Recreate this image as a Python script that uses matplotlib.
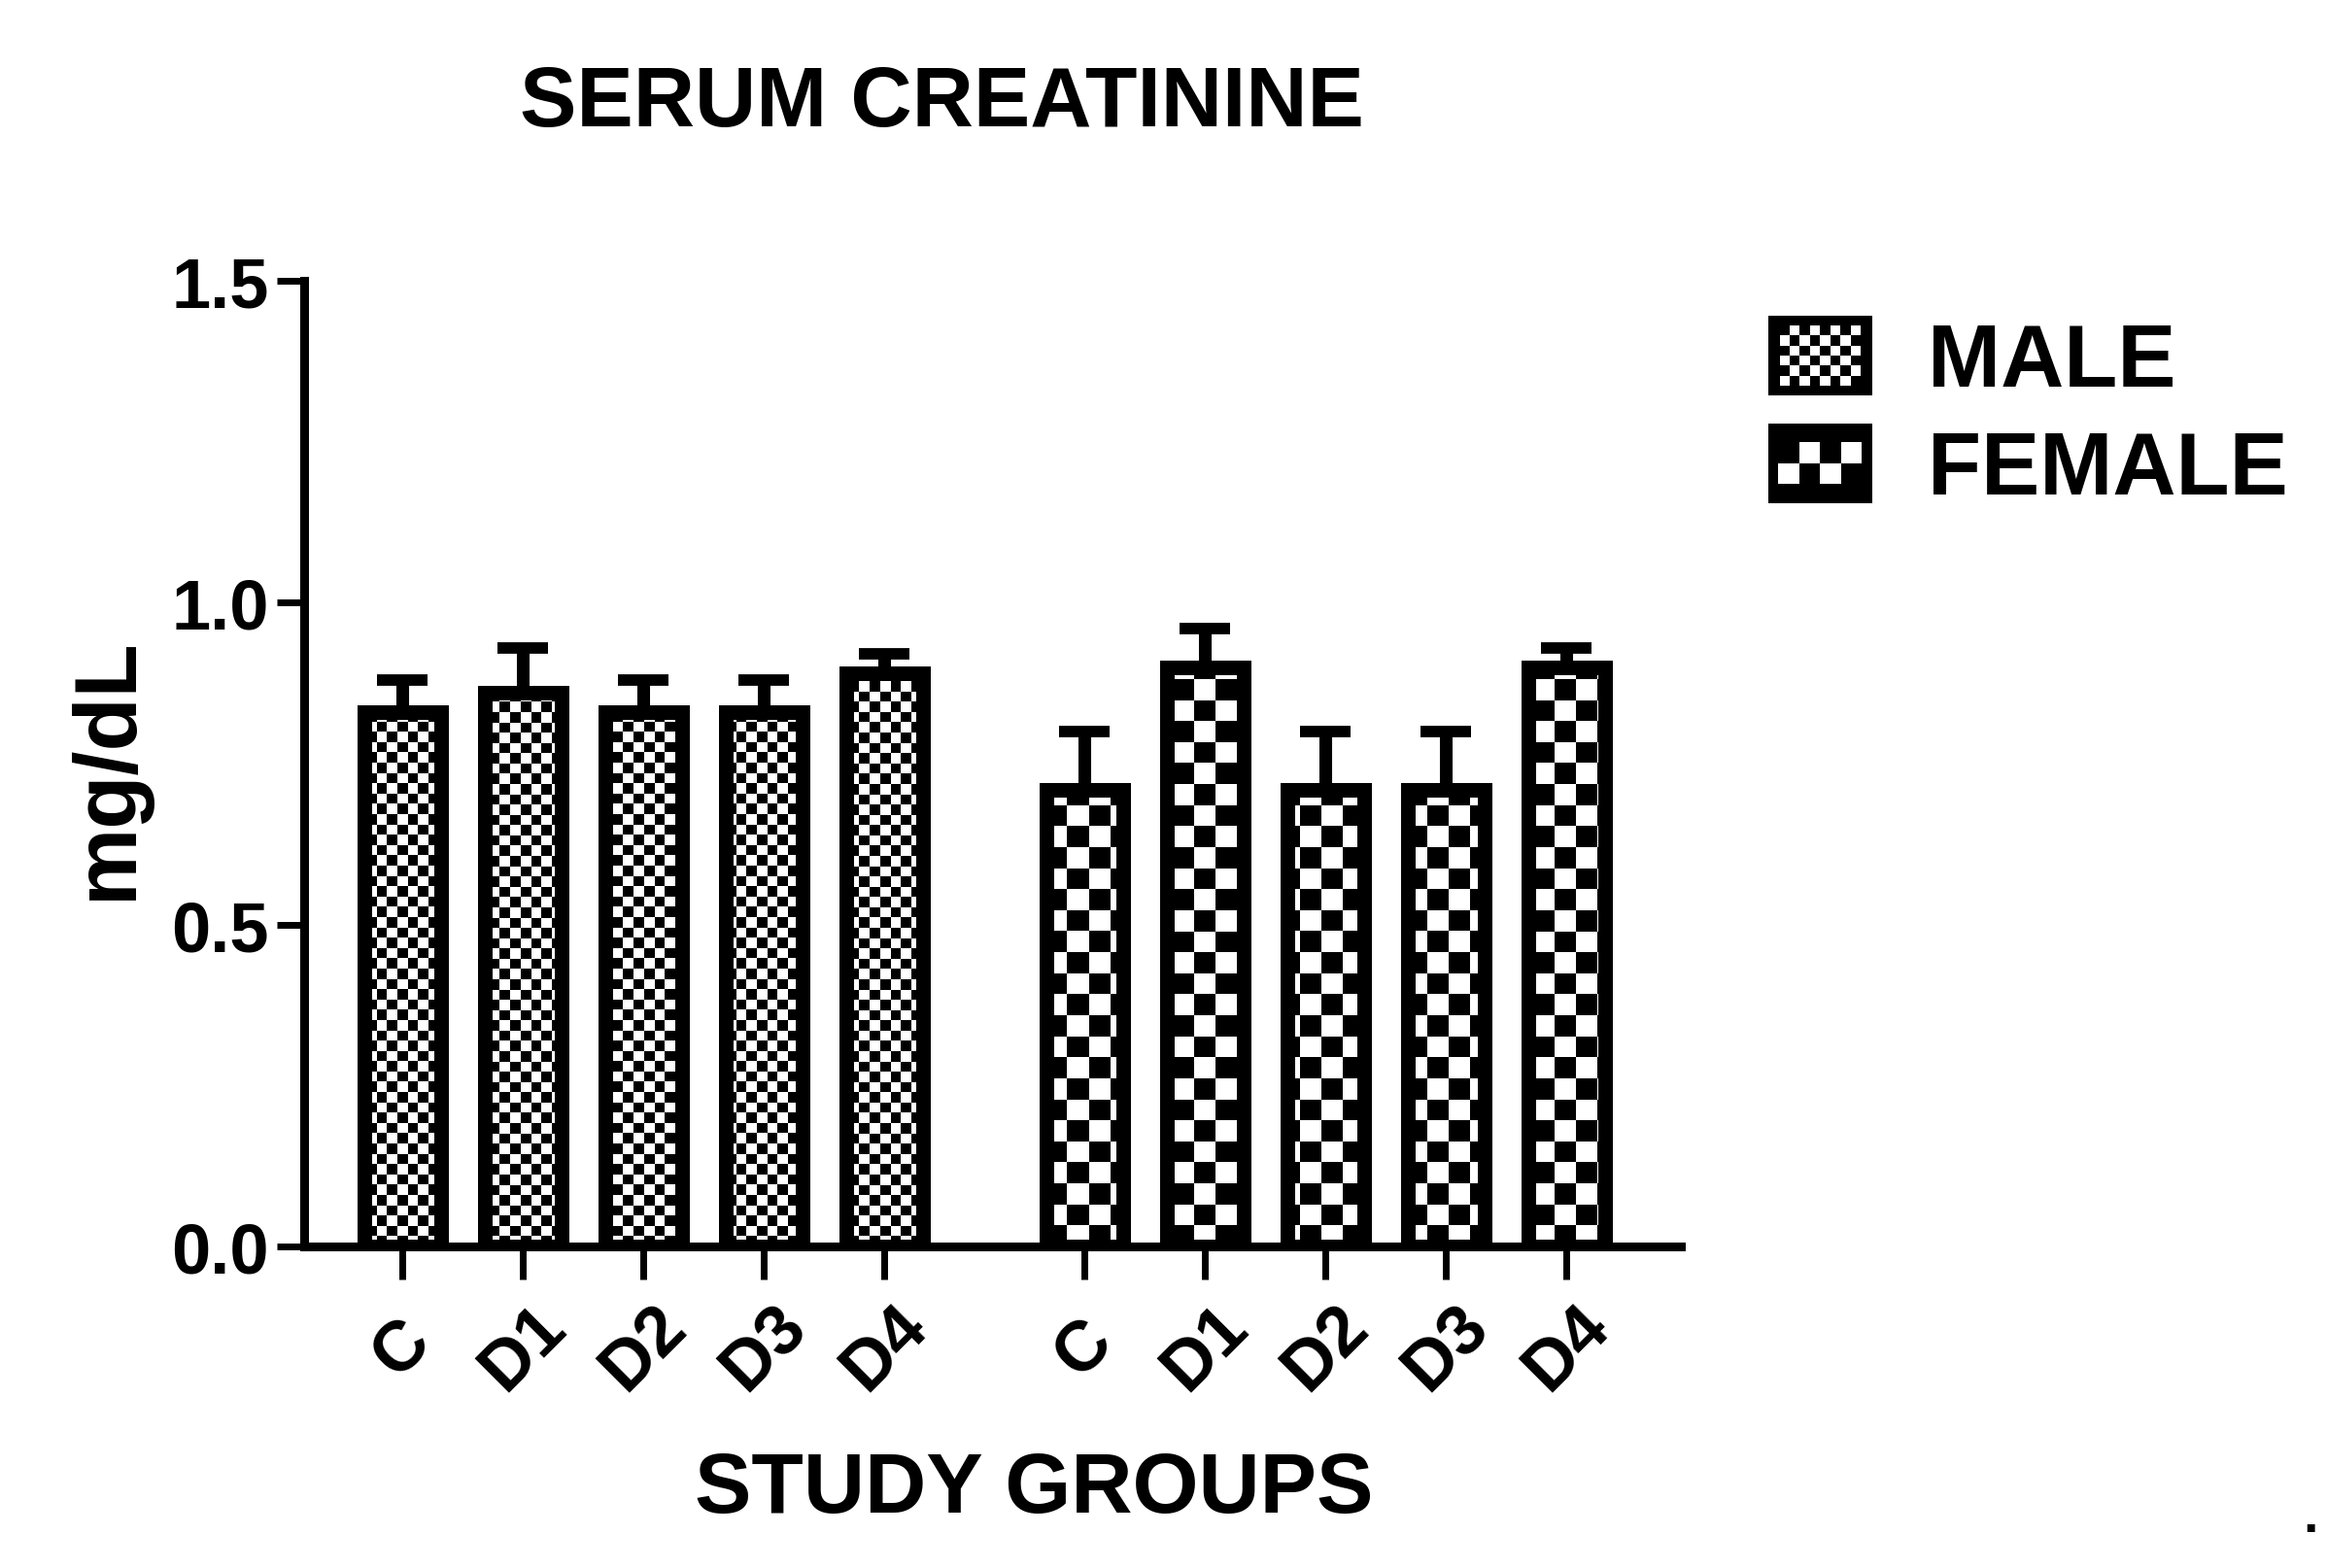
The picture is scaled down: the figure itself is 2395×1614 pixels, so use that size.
import numpy as np
import matplotlib.pyplot as plt
from matplotlib.patches import Rectangle
from matplotlib.legend_handler import HandlerBase

plt.rcParams['font.family'] = ['Liberation Sans', 'DejaVu Sans']

groups = ['C', 'D1', 'D2', 'D3', 'D4']
male_mean = [0.83, 0.86, 0.83, 0.83, 0.89]
male_err = [0.05, 0.07, 0.05, 0.05, 0.03]
female_mean = [0.71, 0.90, 0.71, 0.71, 0.90]
female_err = [0.09, 0.06, 0.09, 0.09, 0.03]

W, H = 2395, 1615
fig = plt.figure(figsize=(W / 100, H / 100), dpi=100)
ax_px = (313, 1284, 1417, 994)  # left, bottom (from top), width, height
ax = fig.add_axes([ax_px[0] / W, 1 - ax_px[1] / H, ax_px[2] / W, ax_px[3] / H])

x_male = np.arange(5)
x_female = np.arange(5) + 5.66
xlim = (-0.815, 10.61)
ylim = (0, 1.5)


def checker(square_px):
    cols = int(ax_px[2] / square_px)
    rows = int(ax_px[3] / square_px)
    return np.add.outer(np.arange(rows), np.arange(cols)) % 2


def draw_group(xs, means, errs, square_px):
    bars = ax.bar(xs, means, width=0.637, facecolor='none', edgecolor='black',
                  linewidth=10.8, zorder=3)
    board = checker(square_px)
    for b in bars:
        im = ax.imshow(board, cmap='gray', vmin=0, vmax=1, interpolation='nearest',
                       extent=(xlim[0], xlim[1], ylim[0], ylim[1]), aspect='auto', zorder=2)
        im.set_clip_path(b)
    ax.errorbar(xs, means, yerr=[np.zeros(len(errs)), errs], fmt='none', ecolor='black',
                elinewidth=9.4, capsize=19, capthick=8.5, zorder=2.5)
    return bars


male_bars = draw_group(x_male, male_mean, male_err, 10.5)
female_bars = draw_group(x_female, female_mean, female_err, 21.5)

ax.set_xlim(*xlim)
ax.set_ylim(*ylim)

for side in ['top', 'right']:
    ax.spines[side].set_visible(False)
for side in ['left', 'bottom']:
    ax.spines[side].set_linewidth(6.5)

ax.set_yticks([0, 0.5, 1.0, 1.5])
ax.set_yticklabels(['0.0', '0.5', '1.0', '1.5'], fontweight='bold')
ax.tick_params(axis='y', length=20, width=5, pad=6, labelsize=52)

ax.set_xticks(np.concatenate([x_male, x_female]))
ax.set_xticklabels(groups * 2, rotation=45, ha='center', va='center', fontweight='bold')
ax.tick_params(axis='x', length=24.5, width=5, pad=50, labelsize=52)

ax.set_xlabel('STUDY GROUPS', fontsize=63, fontweight='bold')
ax.xaxis.set_label_coords(0.530, -0.275)
ax.xaxis.label.set_va('baseline')

ax.set_ylabel('mg/dL', fontsize=65, fontweight='bold')
ax.yaxis.set_label_coords(-0.1256, 0.496)
ax.yaxis.label.set_va('baseline')
ax.yaxis.label.set_rotation_mode('anchor')

fig.text(969 / W, 1 - 130 / H, 'SERUM CREATININE', fontsize=63, fontweight='bold',
         ha='center', va='baseline')


class CheckerHandler(HandlerBase):
    def __init__(self, square):
        super().__init__()
        self.square = square

    def create_artists(self, legend, orig_handle, xdescent, ydescent, width, height,
                       fontsize, trans):
        x0, y0 = -xdescent, -ydescent
        arts = [Rectangle((x0, y0), width, height, facecolor='black', edgecolor='none',
                          transform=trans)]
        border = 7.0
        s = self.square
        nx = int((width - 2 * border) // s)
        ny = int((height - 2 * border) // s)
        ox = x0 + (width - nx * s) / 2
        oy = y0 + (height - ny * s) / 2
        for i in range(nx):
            for j in range(ny):
                if (i + j) % 2 == 0:
                    arts.append(Rectangle((ox + i * s, oy + j * s), s, s, facecolor='white',
                                          edgecolor='none', transform=trans))
        return arts


ax.legend([male_bars, female_bars], ['MALE', 'FEMALE'],
          handler_map={male_bars: CheckerHandler(7.5), female_bars: CheckerHandler(15.5)},
          loc='upper left', bbox_to_anchor=(1820 / W, 1 - 326 / H), bbox_transform=fig.transFigure,
          frameon=False, borderpad=0, borderaxespad=0, handlelength=1.18, handleheight=1.02,
          handletextpad=0.64, labelspacing=0.22, prop={'size': 65, 'weight': 'bold'})

fig.text(2378 / W, 1 - 1577 / H, '.', fontsize=40, fontweight='bold', ha='center', va='baseline')

fig.savefig('out.png', dpi=100, facecolor='white')
